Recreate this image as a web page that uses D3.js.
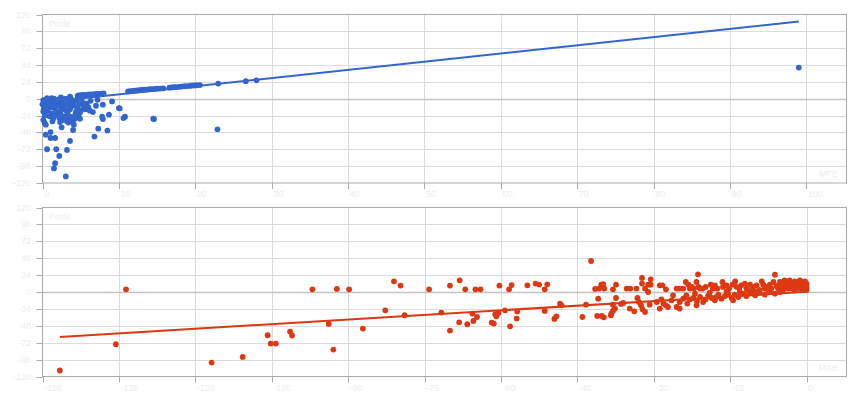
<!DOCTYPE html>
<html><head><meta charset="utf-8">
<script src="https://cdn.jsdelivr.net/npm/d3@7/dist/d3.min.js"></script>
<style>body{margin:0;background:#fff;} text{font-family:Arial,"Liberation Sans",sans-serif;}</style>
</head><body><svg id="chart" width="860" height="400"></svg>
<script>
// ---- tick labels / domains ----
const yTicks = [-120,-96,-72,-48,-24,0,24,48,72,96,120];
const mfeTicks = [0,10,20,30,40,50,60,70,80,90,100];
const maeTicks = [-150,-135,-120,-105,-90,-75,-60,-45,-30,-15,0];
const profitDomain = [-120,120];
const mfeDomain = [0,105.24];
const maeDomain = [-150,7.85];
const yLabel = "Profit";
const topXLabel = "MFE";
const bottomXLabel = "MAE";

// ---- series: [MFE, Profit] ----
const mfePoints = [
[0.1,-2],[0.3,-6],[0.5,-1],[0.6,-9],[0.8,-4],[1.0,-12],[1.1,-2],[1.3,-7],[1.5,0],[1.6,-14],[1.8,-5],[2.0,-10],[2.1,-1],[2.3,-18],[2.5,-6],[2.6,-3],[2.8,-12],[3.0,0],[3.1,-8],[3.3,-20],[3.5,-4],[3.6,-15],[3.8,-1],[4.0,-10],[4.1,-6],[4.3,-22],[4.5,-2],[4.6,-13],[4.8,-8],[5.0,-17],[5.2,-4],[5.4,-11],
[0.2,-14],[0.4,-20],[0.7,-17],[0.9,-25],[1.2,-21],[1.4,-28],[1.7,-24],[1.9,-19],[2.2,-27],[2.4,-23],[2.7,-30],[2.9,-25],[3.2,-28],[3.4,-34],[3.7,-26],[3.9,-31],[4.2,-29],[4.4,-18],[4.7,-24],[4.9,-20],[5.6,-15],[5.8,-7],[6.0,-12],[6.3,-3],
[0.0,-8],[0.2,-4],[0.5,-11],[1.0,-7],[1.5,-10],[2.0,-3],[2.5,-13],[3.0,-16],[3.5,-9],[4.0,-3],[1.2,1],[2.4,2],[3.6,3],[4.6,4],[0.6,1],[6.6,-19],[7.0,-10],[0.1,-18],[0.3,-24],[0.1,-30],
[14.6,-28.9],[9.1,-3.8],[7.9,-8.5],[7.2,-1.4],[10.0,-13.3],[6.2,-17],[8.7,-22.7],[7.8,-25.5],[7.9,-28.9],[10.8,-25.5],[10.6,-27.5],[7.3,-42.6],[8.5,-45.4],[6.8,-53.9],[3.6,-60.1],[3.2,-72.9],[2.2,-81.4],[1.8,-71.9],[0.6,-71.9],[1.05,-55.9],[1.65,-55.9],[0.43,-51.1],[1.05,-47.4],[1.65,-91.8],[1.5,-99.3],[3.05,-110.6],[4.0,-44.5],[4.1,-36.9],[2.5,-40.7],[3.2,-32.2],[2.3,-33.2],[1.3,-32.2],[0.26,-34.0],[0.43,-36.9],[4.6,-25.5],[4.9,-28.4],[10.1,-13.8],[14.5,-28.4],[22.9,-43.5],
[4.7,4.6],[5.0,5.2],[5.3,5.4],[5.6,5.6],[5.9,5.9],[6.2,6.1],[6.5,6.3],[6.8,6.5],[7.1,6.9],[7.4,7.0],[7.7,7.3],[8.0,7.6],
[11.2,10.4],[11.5,10.8],[11.8,11.3],[12.1,11.5],[12.4,11.8],[12.7,12.1],[13.0,12.5],[13.3,12.8],[13.6,13.0],[14.0,13.5],[14.3,13.7],[14.7,14.0],[15.0,14.3],[15.4,14.5],[15.8,14.9],[16.6,15.8],[16.9,16.2],[17.2,16.5],[17.5,16.7],[17.9,17.0],[18.2,17.4],[18.6,17.8],[19.0,18.0],[19.4,18.5],[19.8,18.9],[20.2,19.2],[20.6,19.5],[23.0,21.6],[26.6,25.0],[28.0,26.2],
[99.0,44.4]
];
// ---- series: [MAE, Profit] ----
const maePoints = [
[-146.6,-111.5],[-135.6,-74.2],[-133.6,3.8],[-116.8,-100.2],[-110.7,-92.2],[-105.8,-61.4],[-105.2,-73.2],[-104.2,-73.2],[-101.4,-56.2],[-101.0,-61.8],[-97.0,3.8],[-93.8,-45.4],[-92.9,-81.7],[-92.2,4.3],[-89.8,3.8],[-87.1,-51.9],[-82.7,-26],[-81.0,15.2],[-79.7,9.1],[-78.9,-33],[-74.1,3.8],[-71.7,-29.2],[-70.0,9.1],[-70.0,-54.8],[-68.1,16.6],[-68.2,-43],[-67.0,3.8],[-66.6,-45.8],[-65.6,-30.6],[-65.4,-41.1],[-65.0,3.8],[-64.7,-35.5],[-64.0,3.8],[-61.8,-43.4],[-61.4,-44.8],[-61.1,-31.6],[-60.9,-34.5],[-60.5,-29.8],[-60.3,9.1],[-59.2,-26],[-58.4,3.8],[-58.2,-48.7],[-57.9,9.9],[-56.9,-37.7],[-56.8,-27.8],[-54.8,9.5],[-53.2,11.9],[-52.5,10.5],[-51.4,-26.9],[-51.4,3.8],[-50.9,10.9],[-49.5,-38.3],[-49.1,-34.5],[-48.4,-16.5],[-48.1,-18.9],
[-42.3,44.0],[-41.5,4.3],[-40.7,4.8],[-40.3,10.4],[-39.9,11.0],[-39.7,4.8],[-38.0,3.8],[-37.4,10.4],[-35.3,4.8],[-34.6,4.8],[-33.4,4.8],[-32.3,19.9],[-32.3,11.9],[-31.7,4.8],[-31.1,10.4],[-30.6,18.0],[-30.6,10.4],[-28.8,9.5],[-28.3,9.5],[-27.6,3.8],[-25.5,4.8],[-25.0,4.8],[-24.2,4.8],[-23.7,14.2],[-23.2,10.4],[-22.9,4.8],[-22.5,7.2],[-22.1,4.8],[-21.6,14.2],[-21.3,25.1],[-21.2,7.2],[-20.9,4.8],[-20.4,4.8],[-19.8,7.2],[-18.8,10.4],[-18.4,4.8],[-18.0,9.5],[-17.5,4.8],[-16.5,14.2],[-16.4,7.2],[-15.7,9.5],[-15.2,4.8],[-14.5,10.4],[-14.0,15.2],[-13.7,7.2],[-13.2,4.8],[-12.8,9.5],[-12.1,11.9],[-11.8,4.8],[-11.1,10.4],[-10.5,7.2],[-9.8,9.5],[-8.8,15.2],[-8.5,10.4],[-7.9,7.2],[-7.2,10.4],[-6.5,14.2],[-6.2,24.6],[-5.9,8.6],[-5.2,14.2],[-4.9,10.4],[-4.3,16.6],[-3.9,7.2],[-3.6,11.9],[-3.3,16.6],[-2.6,10.4],[-2.3,15.2],[-2.0,7.2],[-1.6,13.3],[-1.3,16.6],[-1.0,9.5],[-0.7,14.2],[-0.3,7.2],[0.0,11.9],[-0.1,4.8],[-5.2,4.8],[-4.6,2.9],[-2.9,4.8],[-1.3,4.8],[-0.5,2.9],
[-3.9,13.3],[-2.0,11.9],[-0.8,10.4],[-0.3,15.2],[-2.6,4.8],[-1.6,8.6],[-3.3,8.6],[-4.4,9.5],[-5.6,4.8],[-1.0,5.7],[-0.1,8.6],[-2.3,2.4],[-3.6,4.8],[-1.3,10.4],[0.0,7.2],[0.0,2.9],[-5.2,8.6],[-6.9,4.8],[-7.5,2.9],[-8.2,4.8],[-9.2,2.9],[-10.5,2.4],[-11.5,2.9],
[-44.0,-35.5],[-43.3,-18.0],[-40.9,-9.5],[-41.1,-34.0],[-40.2,-34.0],[-39.8,-35.9],[-38.4,-33.1],[-38.3,-30.3],[-38.0,-26.5],[-37.6,-23.6],[-37.4,-8.5],[-38.0,-18.0],[-36.4,-17.0],[-36.0,-15.6],[-34.7,-23.6],[-33.8,-27.4],[-33.2,-8.5],[-32.9,-14.2],[-32.5,-18.9],[-32.2,-24.6],[-31.7,-28.4],[-31.1,0.0],[-30.8,-18.0],[-28.8,-23.6],[-28.5,-10.4],[-28.1,-16.5],[-27.6,-18.9],[-27.2,-21.3],[-26.5,-11.8],[-25.5,-21.3],[-24.9,-14.2],[-24.2,-9.5],[-23.4,-16.5],[-22.9,-10.4],[-22.2,-8.5],[-21.5,-13.2],[-20.9,-7.1],[-20.3,-14.2],[-19.8,-10.4],[-19.3,-4.7],[-18.6,-8.5],[-18.0,-11.8],[-17.3,-3.8],[-16.7,-9.5],[-16.0,-5.7],[-15.4,-2.4],[-14.7,-8.5],[-14.1,-3.8],[-13.4,-7.1],[-12.4,-2.4],[-11.8,-5.7],[-11.0,-0.9],[-10.1,-4.7],[-9.2,-0.9],[-8.2,-3.8],[-7.2,0.0],[-6.2,-2.4],[-5.2,0.0],
[-23.6,-4.7],[-21.9,-2.4],[-19.0,-0.9],[-15.7,1.0],[-13.1,0.0],[-9.8,1.0],[-26.2,-4.7],[-29.4,-14.2],[-17.7,-7.1],[-14.4,-11.8],[-21.6,-18.9],[-24.9,-23.6]
];
// ---- trendlines (endpoints) ----
const mfeTrend = [[0,-5.4],[99,110]];
const maeTrend = [[-146.6,-63.8],[0,0.2]];

const svg = d3.select("#chart");
const textColor = "#eeeeee";

function panel(cfg){
  const g = svg.append("g");
  const x = d3.scaleLinear().domain(cfg.xDomain).range([42.5, 846.5]);
  const y = d3.scaleLinear().domain(profitDomain).range([cfg.bottom, cfg.top]);
  const L = 42.5, R = 846.5, T = cfg.top, B = cfg.bottom;
  g.selectAll(".vg").data(cfg.xTicks.filter((d,i)=>i>0)).enter().append("line")
    .attr("x1", d=>Math.round(x(d))+0.5).attr("x2", d=>Math.round(x(d))+0.5)
    .attr("y1", T).attr("y2", B).attr("stroke","#dcdcdc").attr("stroke-width",1);
  g.selectAll(".hg").data(yTicks.filter(d=>d!==0 && d!==120 && d!==-120)).enter().append("line")
    .attr("x1", L).attr("x2", R)
    .attr("y1", d=>Math.round(y(d))+0.5).attr("y2", d=>Math.round(y(d))+0.5)
    .attr("stroke","#dcdcdc").attr("stroke-width",1);
  g.append("line").attr("x1",L).attr("x2",R)
    .attr("y1",Math.round(y(0))+0.5).attr("y2",Math.round(y(0))+0.5)
    .attr("stroke","#c4c4c4").attr("stroke-width",1.5);
  g.append("rect").attr("x",L).attr("y",T).attr("width",R-L).attr("height",B-T)
    .attr("fill","none").attr("stroke","#aaaaaa").attr("stroke-width",1);
  g.selectAll(".yt").data(yTicks).enter().append("line")
    .attr("x1", L-6).attr("x2", L)
    .attr("y1", d=>Math.round(y(d))+0.5).attr("y2", d=>Math.round(y(d))+0.5)
    .attr("stroke","#aaaaaa");
  g.selectAll(".yl").data(yTicks).enter().append("text")
    .attr("x", 31).attr("y", d=>y(d)+3).attr("text-anchor","end")
    .attr("font-size","9px").attr("fill",textColor).text(d=>d);
  g.selectAll(".xt").data(cfg.xTicks).enter().append("line")
    .attr("x1", d=>Math.round(x(d))+0.5).attr("x2", d=>Math.round(x(d))+0.5)
    .attr("y1", B).attr("y2", B+6).attr("stroke","#aaaaaa");
  g.selectAll(".xl").data(cfg.xTicks).enter().append("text")
    .attr("x", d=>x(d)+1.5).attr("y", B+14).attr("text-anchor","start")
    .attr("font-size","9px").attr("fill",textColor).text(d=>d);
  g.append("text").attr("x",49).attr("y",T+12).attr("font-size","9px").attr("fill",textColor).text(yLabel);
  g.append("text").attr("x",838).attr("y",B-6).attr("text-anchor","end").attr("font-size","9px").attr("fill",textColor).text(cfg.xLabel);
  g.selectAll(".pt").data(cfg.points).enter().append("circle")
    .attr("cx", d=>x(d[0])).attr("cy", d=>y(d[1])).attr("r", 2.9).attr("fill", cfg.color);
  g.append("path").datum(cfg.trend)
    .attr("d", d3.line().x(d=>x(d[0])).y(d=>y(d[1])))
    .attr("stroke", cfg.color).attr("stroke-width", 2).attr("fill","none");
}

panel({top:14.5, bottom:183, xDomain:mfeDomain, xTicks:mfeTicks, points:mfePoints, trend:mfeTrend, color:"#3366cc", xLabel:topXLabel});
panel({top:207.5, bottom:376.5, xDomain:maeDomain, xTicks:maeTicks, points:maePoints, trend:maeTrend, color:"#dc3912", xLabel:bottomXLabel});
</script>
</body></html>
